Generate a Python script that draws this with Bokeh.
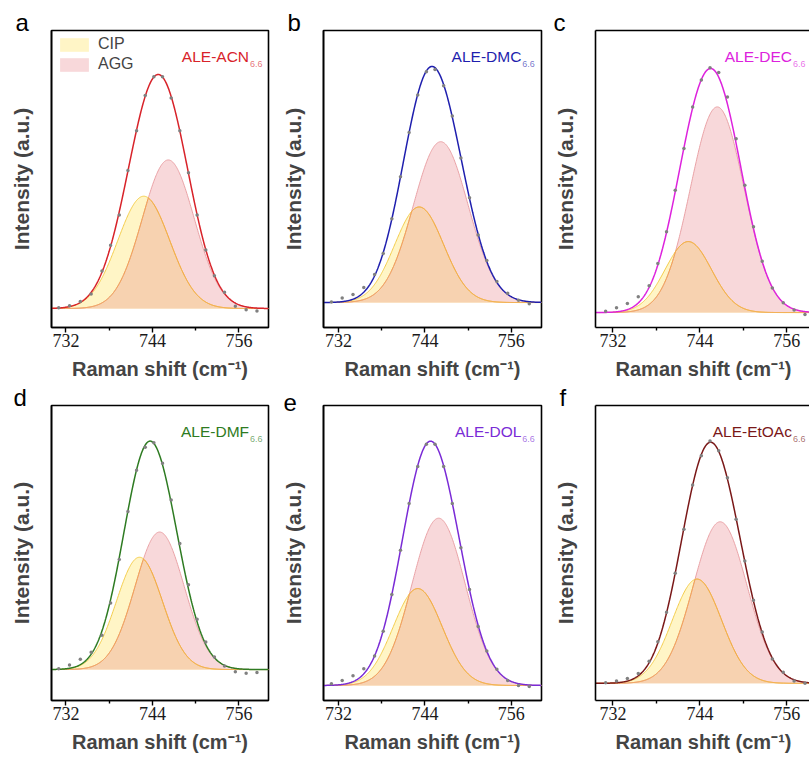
import numpy as np
from bokeh.plotting import figure
from bokeh.models import Range1d, FixedTicker, Label, Legend, LegendItem, LinearAxis
from bokeh.layouts import row, column
from bokeh.embed import file_html
from bokeh.resources import INLINE

# ---------------- data ----------------
panel_letters = ["a", "b", "c", "d", "e", "f"]
solvents = ["ALE-ACN", "ALE-DMC", "ALE-DEC", "ALE-DMF", "ALE-DOL", "ALE-EtOAc"]
subscript = "6.6"
fit_colors = ["#D8232A", "#1F1FAE", "#DD22DD", "#2E7B22", "#7A2BD6", "#7A1818"]
x_ticks = [732, 744, 756]
x_minor_ticks = [738, 750]

# Gaussian components of each fit: centre (cm-1), height (normalised), width (sigma)
cip_center = [742.8, 743.2, 742.4, 742.2, 743.0, 743.6]
cip_height = [0.48, 0.41, 0.29, 0.49, 0.394, 0.426]
cip_sigma = [3.6, 3.4, 3.2, 3.2, 3.4, 3.4]
agg_center = [746.2, 746.2, 746.4, 745.0, 745.9, 746.8]
agg_height = [0.635, 0.69, 0.84, 0.60, 0.68, 0.66]
agg_sigma = [3.6, 3.8, 3.7, 3.4, 3.7, 3.7]

# measured points (grey dots)
dot_x = [731, 732.5, 734, 735.5, 737, 738.2, 739.4, 740.6, 741.8, 743, 744.2,
         745.4, 746.6, 747.8, 749, 750.2, 751.4, 752.6, 754, 755.5, 757, 758.5]
dots_a = [0.003, 0.012, 0.03, 0.062, 0.16, 0.27, 0.40, 0.59, 0.76, 0.91, 0.99,
          0.99, 0.90, 0.76, 0.58, 0.40, 0.25, 0.14, 0.07, 0.01, -0.005, -0.01]
dots_b = [0.002, 0.02, 0.035, 0.065, 0.12, 0.21, 0.36, 0.54, 0.73, 0.89, 0.99,
          1.0, 0.93, 0.80, 0.62, 0.45, 0.29, 0.18, 0.09, 0.04, 0.01, -0.005]
dots_c = [0.005, 0.02, 0.037, 0.065, 0.11, 0.20, 0.33, 0.50, 0.67, 0.84, 0.95,
          1.0, 0.98, 0.88, 0.71, 0.52, 0.35, 0.21, 0.10, 0.04, 0.01, -0.008]
dots_d = [0.004, 0.02, 0.045, 0.075, 0.15, 0.29, 0.48, 0.69, 0.87, 0.97, 0.99,
          0.90, 0.74, 0.55, 0.37, 0.22, 0.12, 0.055, 0.015, -0.01, -0.016, -0.013]
dots_e = [0.007, 0.02, 0.04, 0.068, 0.12, 0.22, 0.37, 0.55, 0.74, 0.89, 0.98,
          0.98, 0.89, 0.74, 0.56, 0.39, 0.24, 0.14, 0.066, 0.02, 0.0, -0.004]
dots_f = [0.003, 0.01, 0.02, 0.04, 0.09, 0.17, 0.29, 0.45, 0.63, 0.81, 0.93,
          0.99, 0.95, 0.84, 0.67, 0.50, 0.34, 0.21, 0.10, 0.045, 0.01, 0.0]
dots_all = [dots_a, dots_b, dots_c, dots_d, dots_e, dots_f]

# ---------------- layout (pixels / ranges) ----------------
col_left = [51, 44, 44]
col_frame = [217, 218, 216]
col_right = [10, 9, 0]
row_top = [30, 22]
row_frame = [297, 295]
row_bottom = [56, 57]

x_ranges = [(730.0, 760.1), (729.9, 760.2), (729.6, 759.4),
            (730.0, 760.1), (729.9, 760.2), (729.6, 759.4)]
y_ranges = [(-0.081, 1.188), (-0.107, 1.167), (-0.061, 1.152),
            (-0.135, 1.152), (-0.061, 1.138), (-0.070, 1.135)]
letter_dx = [-36, -36, -42, -38, -40, -36]
label_end_x = [757.4, 757.4, 756.7, 757.4, 757.4, 756.7]
right_border = [True, True, False, True, True, False]

CIP_FILL = "#FFF5C6"
AGG_FILL = "#F8D8DA"
OVL_FILL = "#F7D2B0"
CIP_LINE = "#F3CC4A"
AGG_LINE = "#E9A2A6"
OVL_LINE = "#F2A54E"
FONT = "Liberation Sans"


def gauss(x, c, h, s):
    return h * np.exp(-((x - c) ** 2) / (2 * s * s))


plots = []
for i in range(6):
    r, c = divmod(i, 3)
    x0, x1 = x_ranges[i]
    y0, y1 = y_ranges[i]
    p = figure(frame_width=col_frame[c], frame_height=row_frame[r],
               min_border_left=col_left[c], min_border_right=col_right[c],
               min_border_top=row_top[r], min_border_bottom=row_bottom[r],
               x_range=Range1d(x0, x1), y_range=Range1d(y0, y1),
               output_backend="svg", toolbar_location=None)
    p.xgrid.visible = False
    p.ygrid.visible = False
    p.background_fill_color = "white"
    p.border_fill_color = "white"

    # panel letter as title
    p.title.text = panel_letters[i]
    p.title.align = "left"
    p.title.offset = letter_dx[i]
    p.title.standoff = -11
    p.title.text_font = FONT
    p.title.text_font_size = "24px"
    p.title.text_font_style = "normal"
    p.title.text_color = "black"

    # bottom axis
    xa = p.below[0]
    xa.ticker = FixedTicker(ticks=x_ticks, minor_ticks=x_minor_ticks)
    xa.axis_line_width = 1.6
    xa.major_tick_in = 0
    xa.major_tick_out = 5
    xa.minor_tick_in = 0
    xa.minor_tick_out = 3
    xa.major_tick_line_width = 1.4
    xa.minor_tick_line_width = 1.4
    xa.major_label_text_font = "Liberation Sans Narrow"
    xa.major_label_text_font_size = "18px"
    xa.major_label_text_color = "#1a1a1a"
    xa.major_label_standoff = 1
    xa.axis_label = "Raman shift (cm\u207b\u00b9)"
    xa.axis_label_text_font = FONT
    xa.axis_label_text_font_style = "bold"
    xa.axis_label_text_font_size = "20px"
    xa.axis_label_standoff = 8

    # left axis
    ya = p.left[0]
    ya.ticker = FixedTicker(ticks=[])
    ya.major_label_text_font_size = "0px"
    ya.major_tick_line_color = None
    ya.minor_tick_line_color = None
    ya.major_tick_out = 0
    ya.minor_tick_out = 0
    ya.axis_line_width = 1.6
    ya.axis_label = "Intensity (a.u.)"
    ya.axis_label_text_font = FONT
    ya.axis_label_text_font_style = "bold"
    ya.axis_label_text_font_size = "21px"
    ya.axis_label_standoff = 19

    if right_border[i]:
        p.outline_line_color = "black"
        p.outline_line_width = 1.6
    else:
        p.outline_line_color = None
        top_ax = LinearAxis(ticker=FixedTicker(ticks=[]),
                            major_label_text_font_size="0px",
                            major_tick_line_color=None, minor_tick_line_color=None,
                            major_tick_out=0, minor_tick_out=0,
                            axis_line_width=1.6, axis_line_color="black")
        p.add_layout(top_ax, "above")

    # curves
    xs = np.linspace(x0, x1, 400)
    cip = gauss(xs, cip_center[i], cip_height[i], cip_sigma[i])
    agg = gauss(xs, agg_center[i], agg_height[i], agg_sigma[i])
    ovl = np.minimum(cip, agg)
    total = cip + agg

    r_agg = p.varea(x=xs, y1=0, y2=agg, fill_color=AGG_FILL)
    r_cip = p.varea(x=xs, y1=0, y2=cip, fill_color=CIP_FILL)
    p.varea(x=xs, y1=0, y2=ovl, fill_color=OVL_FILL)
    p.line(xs, agg, line_color=AGG_LINE, line_width=1)
    p.line(xs, cip, line_color=CIP_LINE, line_width=1)
    p.line(xs, ovl, line_color=OVL_LINE, line_width=1)
    p.line(xs, total, line_color=fit_colors[i], line_width=1.5)
    p.scatter(dot_x, dots_all[i], size=3.5, color="#808080", line_color=None)

    # series label with subscript
    p.add_layout(Label(x=label_end_x[i], y=y1, y_offset=-26, text=solvents[i],
                       text_align="right", text_baseline="alphabetic",
                       text_color=fit_colors[i], text_font=FONT,
                       text_font_size="15.5px"))
    p.add_layout(Label(x=label_end_x[i], y=y1, x_offset=1, y_offset=-33,
                       text=subscript, text_align="left",
                       text_baseline="alphabetic", text_color=fit_colors[i],
                       text_alpha=0.65, text_font=FONT, text_font_size="9px"))

    if i == 0:
        leg = Legend(items=[LegendItem(label="CIP", renderers=[r_cip]),
                            LegendItem(label="AGG", renderers=[r_agg])],
                     location="top_left", margin=5, padding=7, spacing=2,
                     glyph_width=36, glyph_height=17, label_height=17,
                     label_standoff=6, label_text_font=FONT,
                     label_text_font_size="16px", border_line_color=None,
                     background_fill_alpha=0)
        p.add_layout(leg)
    plots.append(p)

layout = column(row(plots[0], plots[1], plots[2]),
                row(plots[3], plots[4], plots[5]))

open("out.html", "w").write(file_html(layout, INLINE))
